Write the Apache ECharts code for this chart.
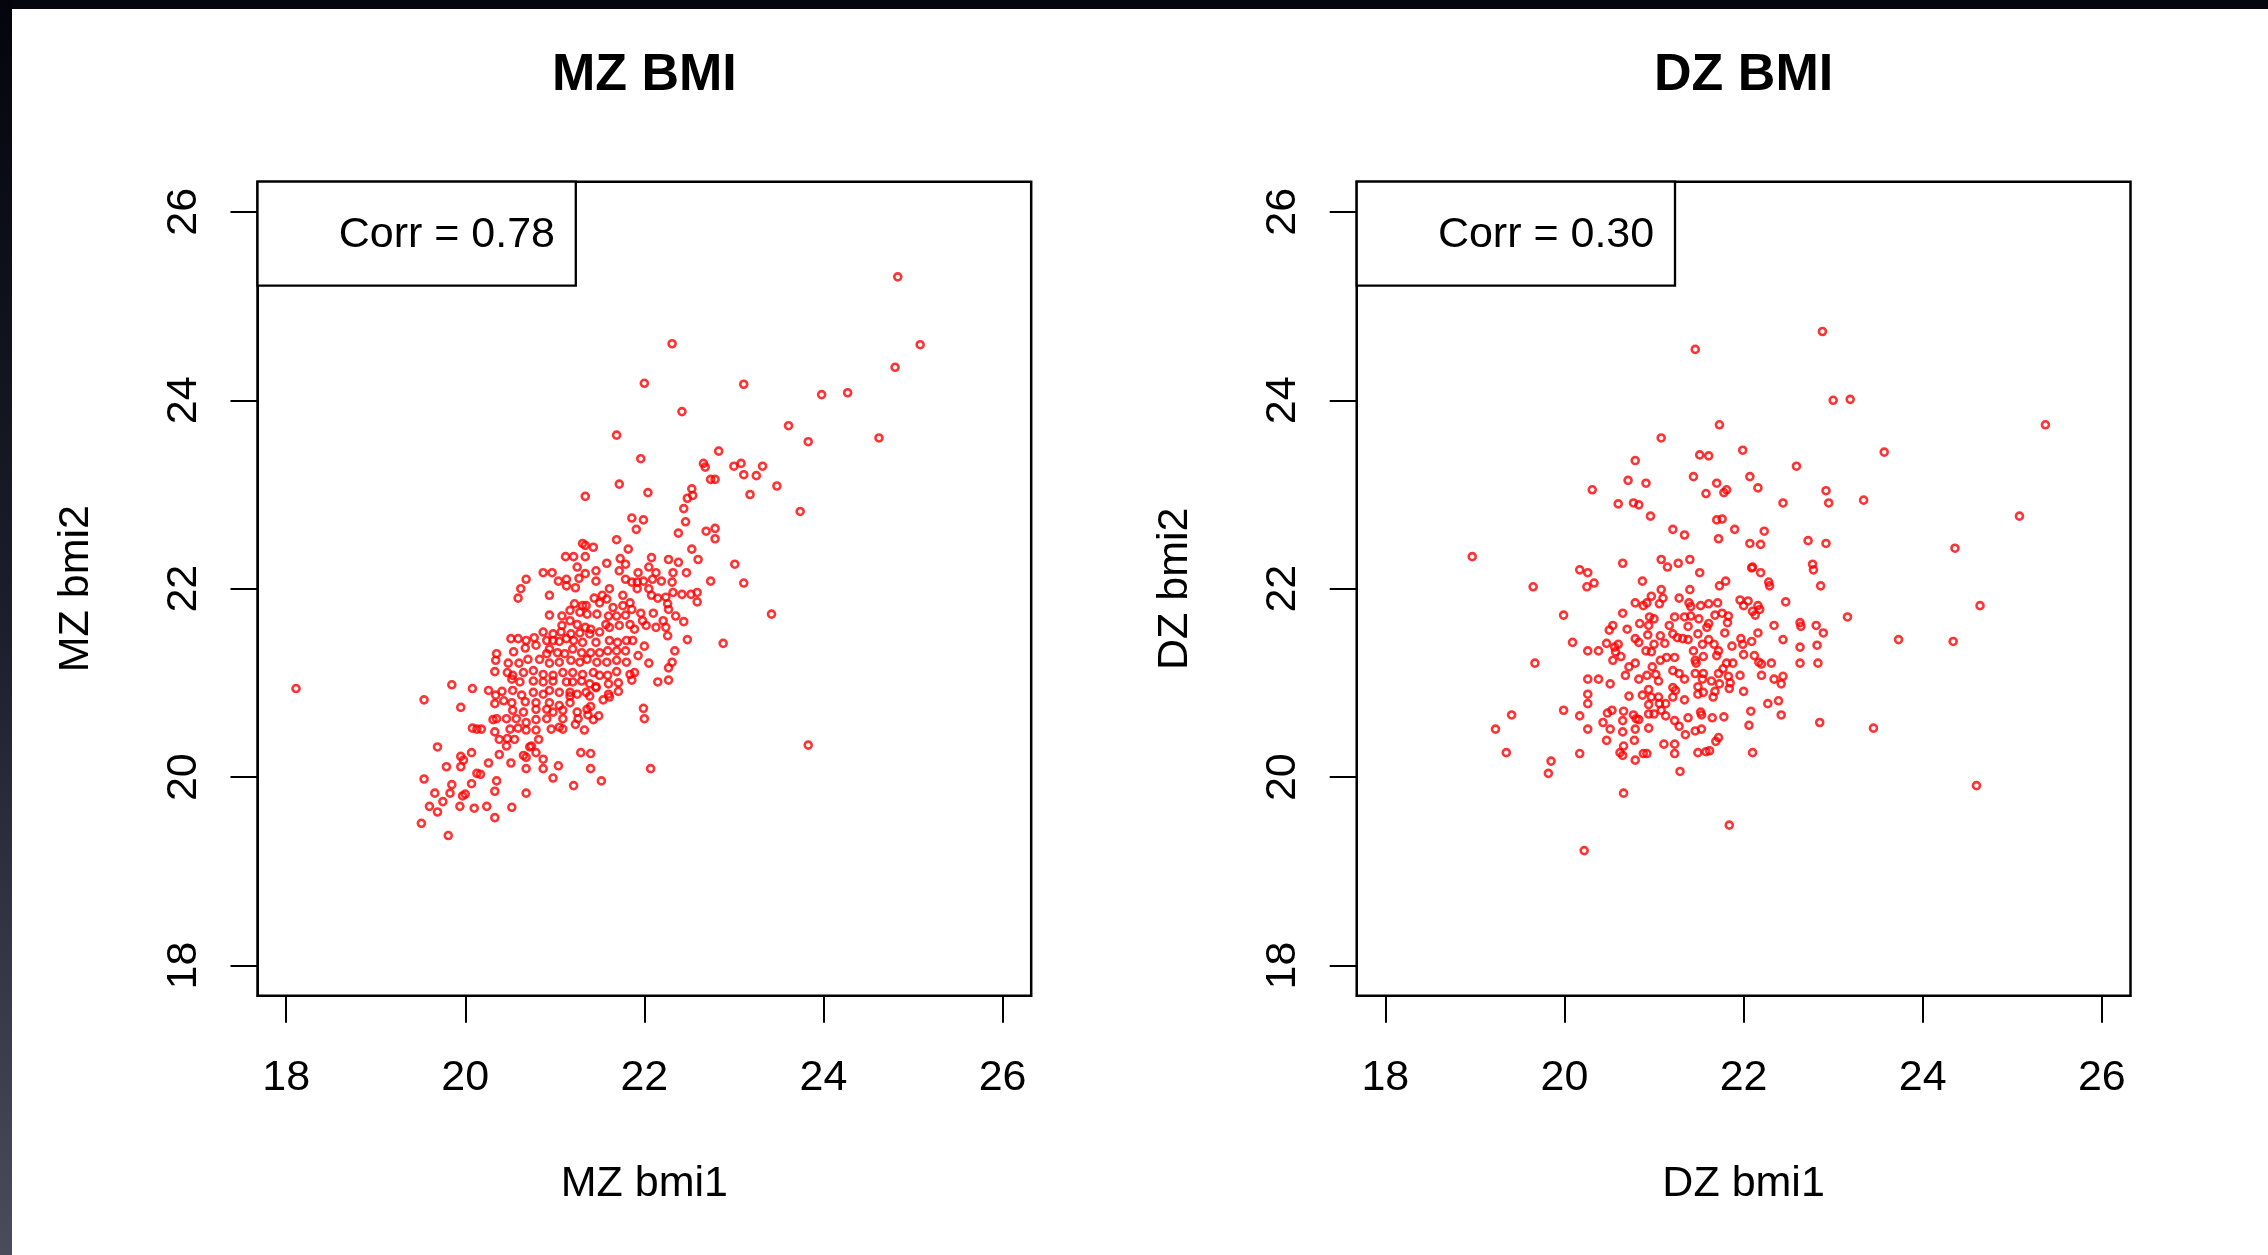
<!DOCTYPE html>
<html><head><meta charset="utf-8">
<script src="https://cdn.jsdelivr.net/npm/echarts@6/dist/echarts.min.js"></script>
<style>html,body{margin:0;padding:0;background:#fff;overflow:hidden}#c{width:2268px;height:1255px}</style>
</head><body><div id="c"></div>
<script>
// ---- data ----
const titles = ['MZ BMI', 'DZ BMI'];
const xNames = ['MZ bmi1', 'DZ bmi1'];
const yNames = ['MZ bmi2', 'DZ bmi2'];
const corrLabels = ['Corr = 0.78', 'Corr = 0.30'];
const tickValues = [18, 20, 22, 24, 26];
const axisMin = 17.68, axisMax = 26.32;

const mzPoints = [
[18.11,20.94],[19.54,20.82],[19.85,20.98],[20.08,20.94],[19.95,20.74],[20.26,20.92],[20.35,21.31],[20.34,21.24],[20.33,21.12],[20.34,20.87],[20.33,20.78],[20.31,20.61],[20.35,20.62],[20.08,20.52],[20.13,20.51],[20.18,20.51],[20.33,20.48],[20.38,20.40],[19.69,20.32],[19.95,20.22],[19.98,20.18],[20.07,20.26],[19.79,20.11],[19.95,20.11],[20.26,20.15],[20.38,20.24],[19.54,19.98],[20.13,20.04],[20.17,20.03],[19.85,19.92],[20.07,19.93],[20.35,19.96],[19.66,19.83],[19.83,19.83],[19.97,19.80],[20.00,19.82],[20.33,19.85],[19.75,19.74],[19.60,19.69],[19.69,19.63],[19.94,19.69],[20.10,19.67],[20.24,19.69],[20.33,19.57],[19.51,19.51],[19.81,19.38],
[21.12,22.34],[21.21,22.34],[21.34,22.34],[21.58,22.27],[21.73,22.32],[22.08,22.33],[22.27,22.31],[22.38,22.28],[22.60,22.31],
[20.87,22.17],[20.97,22.17],[21.25,22.23],[21.34,22.16],[21.46,22.19],[21.72,22.19],[21.79,22.26],[21.93,22.17],[22.05,22.23],[22.13,22.17],[22.32,22.17],[22.47,22.17],
[20.68,22.10],[21.04,22.08],[21.13,22.10],[21.23,22.01],[21.13,22.03],[21.46,22.08],[21.27,22.11],[21.79,22.10],[21.86,22.07],[21.92,22.07],[21.99,22.08],[22.09,22.10],[22.19,22.08],[22.31,22.07],[22.74,22.08],
[20.62,22.00],[20.59,21.90],[20.94,21.93],[21.61,22.00],[21.53,21.93],[21.76,21.93],[21.84,21.85],[21.92,22.00],[22.05,22.00],[22.08,21.93],[22.24,21.91],[22.42,21.94],[22.52,21.94],[22.59,21.96],[22.59,21.86],[22.32,21.96],[22.15,21.90],
[21.22,21.84],[21.31,21.82],[21.35,21.82],[21.44,21.90],[21.50,21.85],[21.58,21.89],[21.65,21.80],[21.76,21.82],[21.86,21.78],[21.96,21.74],[22.10,21.74],[22.26,21.84],[22.27,21.78],[22.35,21.71],[22.44,21.65],[22.21,21.66],[21.98,21.66],[22.02,21.61],[22.13,21.59],[22.24,21.59],
[20.94,21.72],[21.08,21.71],[21.17,21.77],[21.28,21.75],[21.36,21.73],[21.47,21.73],[21.60,21.71],[21.69,21.71],[21.79,21.72],[21.84,21.62],[21.89,21.57],[21.72,21.61],[21.61,21.59],[21.57,21.62],
[21.08,21.61],[21.17,21.66],[21.25,21.62],[21.34,21.59],[21.40,21.57],[20.87,21.54],[20.98,21.52],[21.07,21.54],[21.18,21.52],[21.28,21.53],[21.39,21.52],[21.50,21.54],
[20.51,21.47],[20.59,21.47],[20.68,21.45],[20.77,21.48],[20.91,21.45],[20.98,21.45],[21.05,21.44],[21.13,21.47],[21.21,21.45],[21.31,21.43],[21.46,21.43],[21.61,21.45],[21.70,21.43],[21.80,21.45],[21.87,21.45],[22.00,21.39],[22.26,21.50],[22.48,21.46],
[20.54,21.33],[20.67,21.37],[20.79,21.40],[20.94,21.36],[21.03,21.32],[21.11,21.31],[21.20,21.36],[21.30,21.32],[21.40,21.32],[21.50,21.32],[21.59,21.34],[21.69,21.34],[21.79,21.34],[21.93,21.29],[22.05,21.21],[22.34,21.34],[22.31,21.22],[22.27,21.16],
[20.48,21.21],[20.60,21.21],[20.70,21.25],[20.83,21.25],[20.91,21.31],[20.94,21.21],[21.05,21.22],[21.18,21.24],[21.28,21.22],[21.36,21.25],[21.47,21.22],[21.58,21.22],[21.69,21.24],[21.80,21.22],
[20.47,21.11],[20.53,21.08],[20.65,21.11],[20.76,21.13],[20.87,21.09],[20.98,21.08],[21.09,21.11],[21.20,21.11],[21.31,21.09],[21.43,21.11],[21.50,21.08],[21.59,21.08],[21.69,21.12],[21.84,21.09],[21.89,21.11],[21.86,21.03],[22.15,21.01],[22.27,21.03],
[20.52,21.04],[20.61,21.01],[20.76,21.02],[20.87,21.01],[20.98,21.02],[21.13,21.01],[21.20,21.01],[21.30,21.02],[21.39,20.99],[21.46,20.96],[21.60,20.99],[21.71,21.00],
[20.41,20.91],[20.53,20.92],[20.63,20.87],[20.76,20.90],[20.87,20.88],[20.94,20.92],[21.05,20.90],[21.17,20.90],[21.25,20.88],[21.35,20.90],[21.46,20.95],[21.60,20.88],[21.71,20.91],[21.54,20.82],
[20.43,20.81],[20.52,20.79],[20.67,20.80],[20.79,20.79],[20.94,20.79],[21.05,20.76],[21.17,20.79],[21.17,20.86],[21.39,20.86],[21.61,20.85],
[20.53,20.71],[20.65,20.69],[20.79,20.72],[20.91,20.72],[20.98,20.69],[21.09,20.71],[21.25,20.69],[21.36,20.72],[21.40,20.75],[21.99,20.73],[22.00,20.62],
[20.46,20.62],[20.57,20.62],[20.68,20.58],[20.79,20.61],[20.91,20.62],[21.09,20.62],[21.26,20.62],[21.37,20.66],[21.43,20.61],[21.49,20.65],
[20.50,20.51],[20.59,20.52],[20.68,20.50],[20.79,20.50],[20.96,20.51],[21.05,20.53],[21.09,20.51],[21.23,20.56],[21.33,20.50],
[20.47,20.41],[20.55,20.40],[20.46,20.33],[20.82,20.40],[20.72,20.32],[20.74,20.33],[20.65,20.23],[20.68,20.21],[20.79,20.26],[21.29,20.26],[21.40,20.25],[20.51,20.15],[20.68,20.09],[20.87,20.19],[20.87,20.09],[21.04,20.12],[21.40,20.09],[22.07,20.09],[20.98,19.99],[21.21,19.91],[21.52,19.96],[20.68,19.83],[20.52,19.68],
[22.31,24.60],[22.00,24.18],[22.42,23.88],[21.69,23.63],[21.96,23.38],[21.72,23.11],[22.04,23.02],[21.34,22.98],[22.66,23.33],[22.68,23.29],[22.74,23.16],[22.79,23.16],[22.83,23.46],[22.53,23.06],[22.54,22.99],[22.48,22.96],[22.44,22.85],[22.46,22.71],[21.86,22.75],[21.99,22.73],[21.91,22.63],[22.38,22.59],[22.69,22.61],[22.79,22.64],[22.79,22.53],[21.69,22.52],[21.31,22.48],[21.34,22.46],[21.43,22.44],[21.82,22.42],[22.53,22.42],
[24.83,25.31],[25.08,24.59],[24.80,24.35],[23.11,24.17],[23.98,24.06],[24.27,24.08],[23.61,23.73],[23.83,23.56],[24.62,23.60],[23.00,23.30],[23.08,23.33],[23.11,23.21],[23.25,23.20],[23.32,23.30],[23.18,23.00],[23.48,23.09],[23.74,22.82],[23.01,22.26],[23.11,22.06],[23.42,21.73],[22.88,21.42],[23.83,20.34]
];

const dzPoints = [
[21.08,23.60],[20.79,23.36],[20.71,23.15],[20.91,23.12],[20.31,23.05],[20.60,22.90],[20.77,22.91],[20.83,22.89],[20.96,22.77],[18.97,22.34],[20.65,22.27],[21.08,22.31],[21.15,22.23],[20.17,22.20],[20.26,22.17],[20.33,22.06],[20.87,22.08],[19.65,22.02],[20.25,22.02],[21.08,21.99],
[20.79,21.85],[20.88,21.82],[20.92,21.85],[20.97,21.92],[21.06,21.84],[21.10,21.90],[20.65,21.74],[19.99,21.72],[20.84,21.63],[20.95,21.70],[20.94,21.61],[21.00,21.68],[20.50,21.56],[20.54,21.61],[20.70,21.57],[20.79,21.47],[20.83,21.43],[20.93,21.51],[21.07,21.50],[21.17,21.61],[20.09,21.43],[20.26,21.34],[20.38,21.34],[20.47,21.42],[20.56,21.38],[20.60,21.41],[20.57,21.33],[20.63,21.28],[20.54,21.24],[20.91,21.34],[20.97,21.33],[21.00,21.41],[21.12,21.42],[19.67,21.21],[20.26,21.04],[20.38,21.04],[20.51,20.99],[20.68,21.08],[20.72,21.17],[20.79,21.21],[20.83,21.04],[20.92,21.08],[20.98,21.17],[21.02,21.09],[21.05,21.02],[21.07,21.24],[21.14,21.27],[20.26,20.88],[20.26,20.78],[20.72,20.86],[20.87,20.87],[20.94,20.93],[20.97,20.85],[21.05,20.85],[20.94,20.77],[21.06,20.78],[21.13,20.78],[21.13,20.65],[21.00,20.67],[21.08,20.71],[19.99,20.71],[19.41,20.66],[19.23,20.51],[20.17,20.65],[20.26,20.51],[20.43,20.58],[20.48,20.68],[20.53,20.71],[20.51,20.51],[20.66,20.70],[20.65,20.60],[20.65,20.48],[20.77,20.66],[20.80,20.62],[20.83,20.61],[20.79,20.51],[20.78,20.39],[20.94,20.67],[20.94,20.52],[20.47,20.39],[20.66,20.33],[20.62,20.26],[20.65,20.23],[20.79,20.18],[20.88,20.25],[20.92,20.25],[21.11,20.35],[19.35,20.26],[19.85,20.17],[19.82,20.04],[20.17,20.25],[20.66,19.83],[20.22,19.22],
[22.88,24.73],[21.46,24.54],[23.00,24.00],[23.19,24.01],[21.73,23.74],[23.57,23.45],[21.51,23.42],[21.61,23.41],[21.99,23.47],[22.59,23.30],[21.44,23.19],[22.07,23.19],[21.70,23.12],[21.81,23.05],[21.78,23.02],[21.58,23.01],[22.16,23.07],[22.92,23.04],[22.44,22.91],[22.95,22.91],[23.34,22.94],[21.70,22.73],[21.76,22.74],[21.21,22.63],[21.34,22.57],[21.90,22.63],[22.23,22.61],[21.72,22.53],[22.07,22.48],[22.19,22.47],[22.72,22.51],[22.92,22.48],[21.27,22.27],[21.40,22.31],[21.51,22.17],[22.09,22.22],[22.10,22.23],[22.19,22.17],[22.77,22.26],[22.78,22.20],[21.80,22.08],[21.73,22.03],[22.28,22.07],[22.29,22.03],[22.86,22.03],[21.40,21.99],
[21.28,21.90],[21.39,21.85],[21.41,21.81],[21.52,21.82],[21.61,21.84],[21.71,21.85],[21.96,21.88],[22.05,21.87],[22.00,21.82],[22.16,21.82],[22.10,21.76],[22.18,21.78],[22.13,21.72],[22.47,21.86],[23.16,21.70],[21.23,21.70],[21.34,21.70],[21.41,21.71],[21.50,21.68],[21.68,21.72],[21.76,21.74],[21.83,21.71],[21.82,21.64],[21.61,21.63],[21.59,21.59],[21.21,21.52],[21.38,21.60],[21.49,21.52],[21.26,21.48],[21.32,21.47],[21.38,21.46],[21.54,21.41],[21.61,21.46],[21.67,21.41],[21.72,21.34],[21.79,21.53],[21.87,21.39],[21.97,21.47],[21.99,21.41],[22.09,21.44],[22.16,21.53],[22.34,21.61],[22.44,21.46],[22.63,21.64],[22.64,21.60],[22.81,21.61],[22.89,21.53],[22.63,21.38],[22.82,21.40],[21.23,21.27],[21.44,21.34],[21.46,21.24],[21.47,21.21],[21.55,21.28],[21.70,21.29],[21.81,21.21],[21.88,21.21],[22.00,21.30],[22.12,21.29],[22.17,21.22],[22.20,21.20],[22.31,21.21],[22.63,21.21],[22.83,21.21],[21.21,21.13],[21.28,21.10],[21.34,21.04],[21.46,21.10],[21.55,21.10],[21.49,20.96],[21.54,21.04],[21.64,21.02],[21.72,21.10],[21.77,21.15],[21.73,20.99],[21.83,21.07],[21.85,21.00],[21.84,20.94],[21.96,21.08],[22.20,21.08],[22.34,21.04],[22.44,21.07],[22.42,20.99],[21.21,20.95],[21.24,20.92],[21.21,20.85],[21.34,20.82],[21.49,20.88],[21.55,20.90],[21.66,20.85],[21.68,20.91],[22.00,20.91],[22.27,20.78],[22.39,20.81],[21.52,20.69],[21.53,20.66],[21.38,20.63],[21.23,20.60],[21.28,20.54],[21.35,20.45],[21.46,20.49],[21.53,20.51],[21.65,20.63],[21.78,20.64],[22.08,20.70],[22.06,20.55],[22.42,20.66],[22.85,20.58],[23.45,20.52],[21.23,20.35],[21.23,20.25],[21.49,20.26],[21.58,20.27],[21.62,20.28],[21.69,20.38],[21.72,20.42],[22.10,20.26],[21.29,20.06],[21.84,19.49],
[25.37,23.74],[25.08,22.77],[24.36,22.43],[24.64,21.82],[23.73,21.46],[24.34,21.44],[24.60,19.91]
];

const seriesPoints = [mzPoints, dzPoints];

// ---- layout / style ----
const FONT = "'Liberation Sans', Arial, Helvetica, sans-serif";
const grids = [
  {left: 257.5, top: 181.7, width: 773.7, height: 814},
  {left: 1356.7, top: 181.7, width: 773.8, height: 814}
];

const chart = echarts.init(document.getElementById('c'), null, {renderer: 'canvas'});

const xAxes = [], yAxes = [], series = [], graphics = [];

// dark frame edges of the photographed slide
graphics.push({type: 'rect', shape: {x: 0, y: 0, width: 2268, height: 9}, style: {fill: '#05060e'}, z: 100});
graphics.push({type: 'rect', shape: {x: 0, y: 0, width: 12, height: 1255},
  style: {fill: new echarts.graphic.LinearGradient(0, 0, 0, 1, [{offset: 0, color: '#04050c'}, {offset: 0.5, color: '#1c1e2c'}, {offset: 1, color: '#4a4c5c'}])}, z: 100});

grids.forEach((g, i) => {
  const axisCommon = {
    gridIndex: i, type: 'value', min: axisMin, max: axisMax,
    axisLine: {show: true, lineStyle: {color: '#000', width: 2}},
    axisTick: {show: true, customValues: tickValues, length: 27, inside: false, lineStyle: {color: '#000', width: 2}},
    splitLine: {show: false},
    nameLocation: 'middle',
    nameTextStyle: {fontSize: 43, color: '#000', fontFamily: FONT}
  };
  xAxes.push(Object.assign({}, axisCommon, {
    position: 'bottom',
    axisLabel: {customValues: tickValues, fontSize: 43, color: '#000', fontFamily: FONT, margin: 61},
    name: xNames[i], nameGap: 167
  }));
  yAxes.push(Object.assign({}, axisCommon, {
    position: 'left',
    axisLabel: {customValues: tickValues, fontSize: 43, color: '#000', fontFamily: FONT, margin: 52, rotate: 90},
    name: yNames[i], nameGap: 160
  }));
  series.push({
    type: 'scatter', xAxisIndex: i, yAxisIndex: i,
    data: seriesPoints[i], symbol: 'circle', symbolSize: 7,
    itemStyle: {color: 'rgba(0,0,0,0)', borderColor: '#ff0000', borderWidth: 2.6},
    silent: true, animation: false, z: 3
  });
  const cx = g.left + g.width / 2;
  graphics.push({type: 'text', x: cx, y: 76, z: 50,
    style: {text: titles[i], fontSize: 52, fontWeight: 'bold', fontFamily: FONT, fill: '#000', align: 'center', verticalAlign: 'middle'}});
  graphics.push({type: 'rect', z: 50, shape: {x: g.left, y: g.top, width: 318.3, height: 104},
    style: {fill: '#fff', stroke: '#000', lineWidth: 2.3}});
  graphics.push({type: 'text', x: g.left + 297.5, y: g.top + 53, z: 51,
    style: {text: corrLabels[i], fontSize: 43, fontFamily: FONT, fill: '#000', align: 'right', verticalAlign: 'middle'}});
});

chart.setOption({
  backgroundColor: '#ffffff',
  animation: false,
  grid: grids.map(g => Object.assign({show: true, borderColor: '#000', borderWidth: 2.5, backgroundColor: 'transparent', containLabel: false}, g)),
  xAxis: xAxes,
  yAxis: yAxes,
  series: series,
  graphic: graphics
});
</script>
</body></html>
